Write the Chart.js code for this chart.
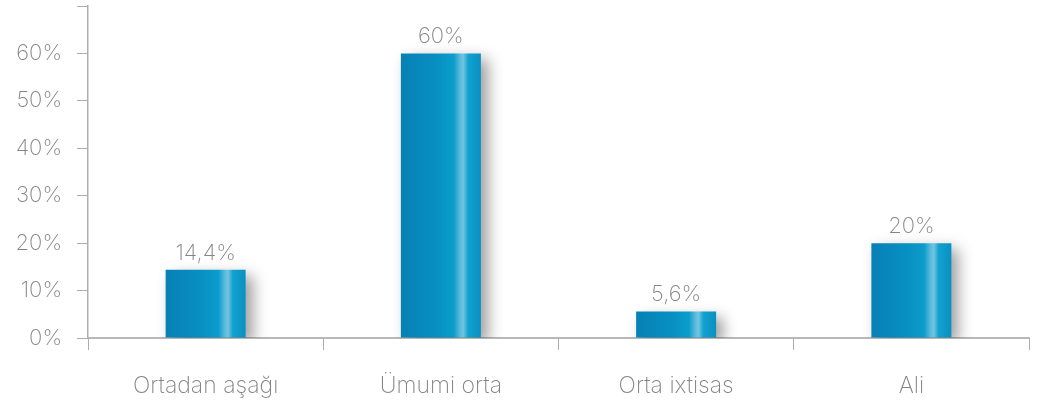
<!DOCTYPE html>
<html>
<head>
<meta charset="utf-8">
<script src="https://cdn.jsdelivr.net/npm/chart.js@4/dist/chart.umd.min.js"></script>
<style>
  html, body { margin: 0; padding: 0; background: #fff; }
  #wrap { width: 1039px; height: 406px; }
</style>
</head>
<body>
<div id="wrap"><canvas id="chart" width="1039" height="406"></canvas></div>
<script>
// --- data ---
const categories = ['Ortadan aşağı', 'Ümumi orta', 'Orta ixtisas', 'Ali'];
const values = [14.4, 60, 5.6, 20];
const valueLabels = ['14,4%', '60%', '5,6%', '20%'];

const FONT = { family: 'Inter, Lato, sans-serif', size: 22, weight: '200' };
const CAT_FONT = { family: FONT.family, size: 23, weight: '200' };
const TEXT = '#858585';
const AXIS = '#adadad';

// horizontal glossy gradient for each bar
function barFill(c) {
  const bar = c.chart.getDatasetMeta(0).data[c.dataIndex];
  if (!bar || !Number.isFinite(bar.x) || !Number.isFinite(bar.width)) return '#0a8fc2';
  const x0 = bar.x - bar.width / 2, x1 = bar.x + bar.width / 2;
  const g = c.chart.ctx.createLinearGradient(x0, 0, x1, 0);
  g.addColorStop(0, '#0780b5');
  g.addColorStop(0.45, '#0890c3');
  g.addColorStop(0.66, '#0a9dcb');
  g.addColorStop(0.74, '#5cbadc');
  g.addColorStop(0.78, '#74c4e0');
  g.addColorStop(0.84, '#12a2cf');
  g.addColorStop(1, '#0890c0');
  return g;
}

// soft drop shadow behind the bars
const barShadow = {
  id: 'barShadow',
  beforeDatasetDraw(chart) {
    const ctx = chart.ctx;
    ctx.save();
    ctx.shadowColor = 'rgba(0,0,0,0.38)';
    ctx.shadowBlur = 14;
    ctx.shadowOffsetX = 7;
    ctx.shadowOffsetY = 6;
  },
  afterDatasetDraw(chart) { chart.ctx.restore(); }
};

// value text above each bar
const valueText = {
  id: 'valueText',
  afterDatasetsDraw(chart) {
    const ctx = chart.ctx;
    ctx.save();
    ctx.font = `${FONT.weight} ${FONT.size}px ${FONT.family}`;
    ctx.fillStyle = TEXT;
    ctx.textAlign = 'center';
    ctx.textBaseline = 'alphabetic';
    chart.getDatasetMeta(0).data.forEach((bar, i) => {
      ctx.fillText(valueLabels[i], bar.x, bar.y - 10);
    });
    ctx.restore();
  }
};

const chart = new Chart(document.getElementById('chart'), {
  type: 'bar',
  data: {
    labels: categories,
    datasets: [{ data: values, backgroundColor: barFill, borderWidth: 0,
      categoryPercentage: 1, barPercentage: 0.34 }]
  },
  options: {
    responsive: false,
    animation: false,
    layout: { padding: { top: 6, right: 10, left: 0, bottom: 0 } },
    plugins: { legend: { display: false }, tooltip: { enabled: false } },
    scales: {
      x: {
        grid: { offset: true, drawOnChartArea: false, color: AXIS, tickLength: 12 },
        border: { color: '#b8b8b8', width: 2 },
        ticks: { color: TEXT, font: CAT_FONT, padding: 22 },
        afterFit: s => { s.height = 68; s.paddingLeft = 0; s.paddingRight = 0; }
      },
      y: {
        min: 0, max: 70,
        grid: { drawOnChartArea: false, color: AXIS, tickLength: 11 },
        border: { color: AXIS, width: 1.5 },
        ticks: { stepSize: 10, color: TEXT, font: FONT, padding: 15,
          callback: v => v === 70 ? '' : v + '%' },
        afterFit: s => { s.width = 88; s.paddingTop = 0; s.paddingBottom = 0; }
      }
    }
  },
  plugins: [barShadow, valueText]
});
// second pass so the gradients use the final bar geometry
chart.update('none');
</script>
</body>
</html>
